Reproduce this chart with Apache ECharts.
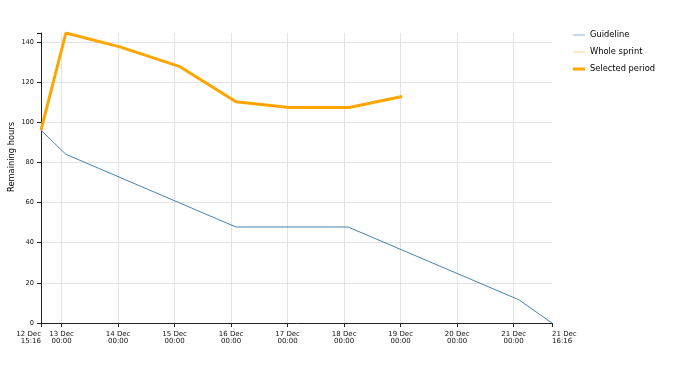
<!DOCTYPE html>
<html>
<head>
<meta charset="utf-8">
<script src="https://cdn.jsdelivr.net/npm/echarts@6/dist/echarts.min.js"></script>
<style>
html,body{margin:0;padding:0;background:#fff;}
#chart{width:690px;height:365px;}
</style>
</head>
<body>
<div id="chart"></div>
<script>
// ---- data ----
var seriesNames = ['Guideline', 'Whole sprint', 'Selected period'];
var guidelineTimes = ['2023-12-12T15:16', '2023-12-13T01:50', '2023-12-16T02:04', '2023-12-18T01:40', '2023-12-21T02:08', '2023-12-21T16:16'];
var guidelineValues = [96, 84, 47.8, 47.8, 11.6, 0];
var sprintTimes = ['2023-12-12T15:16', '2023-12-13T01:50', '2023-12-14T00:47', '2023-12-15T01:58', '2023-12-16T02:04', '2023-12-17T00:40', '2023-12-18T02:06', '2023-12-19T00:36'];
var wholeSprintValues = [96, 144.4, 137.5, 127.8, 110.2, 107.3, 107.3, 112.8];
var selectedValues = [96, 144.4, 137.5, 127.8, 110.2, 107.3, 107.3, 112.8];
var xTickTimes = ['2023-12-12T15:16', '2023-12-13T00:00', '2023-12-14T00:00', '2023-12-15T00:00', '2023-12-16T00:00', '2023-12-17T00:00', '2023-12-18T00:00', '2023-12-19T00:00', '2023-12-20T00:00', '2023-12-21T00:00', '2023-12-21T16:16'];
var xTickLabels = ['12 Dec\n15:16', '13 Dec\n00:00', '14 Dec\n00:00', '15 Dec\n00:00', '16 Dec\n00:00', '17 Dec\n00:00', '18 Dec\n00:00', '19 Dec\n00:00', '20 Dec\n00:00', '21 Dec\n00:00', '21 Dec\n16:16'];
var yTickValues = [0, 20, 40, 60, 80, 100, 120, 140];
var yTitle = 'Remaining hours';

// ---- build ----
function t(s) { return new Date(s + ':00Z').getTime(); }
var xTicks = xTickTimes.map(t);
var xMin = xTicks[0], xMax = xTicks[xTicks.length - 1];
var dayTicks = xTicks.slice(1, xTicks.length - 1);
var yMax = Math.max.apply(null, guidelineValues.concat(wholeSprintValues, selectedValues));
function pairs(times, vals) { return times.map(function (s, i) { return [t(s), vals[i]]; }); }

var THIN = 'path://M0,0 M0,4.5 H12 V5.5 H0 Z M12,10';
var THICK = 'path://M0,0 M0,3.5 H12 V6.5 H0 Z M12,10';
var FONT = 'DejaVu Sans';
var chart = echarts.init(document.getElementById('chart'), null, {renderer: 'canvas'});
chart.setOption({
  animation: false,
  backgroundColor: '#fff',
  grid: {left: 41, right: 138, top: 33, bottom: 42, containLabel: false},
  legend: {
    left: 573, top: 30, padding: 0, orient: 'vertical', itemWidth: 12, itemHeight: 10, itemGap: 7,
    textStyle: {fontFamily: FONT, fontSize: 8.3, color: '#000'},
    data: [
      {name: seriesNames[0], icon: THIN, itemStyle: {color: '#8fb2d6'}},
      {name: seriesNames[1], icon: THIN},
      {name: seriesNames[2], icon: THICK}
    ]
  },
  graphic: [{
    type: 'text', x: 12, y: 157, rotation: Math.PI / 2,
    style: {text: yTitle, fontFamily: FONT, fontSize: 8.3, fill: '#000', align: 'center', verticalAlign: 'middle'}
  }],
  xAxis: [{
    type: 'value', min: xMin, max: xMax,
    axisLine: {show: true, onZero: false, lineStyle: {color: '#222', width: 1}},
    axisTick: {show: true, length: 4, lineStyle: {color: '#222'}, customValues: xTicks},
    axisLabel: {customValues: xTicks, showMinLabel: true, showMaxLabel: true, hideOverlap: false,
      alignMinLabel: 'right', alignMaxLabel: 'left',
      margin: 7, fontFamily: FONT, fontSize: 7, color: '#111', lineHeight: 7.5,
      formatter: function (v) { var i = xTicks.indexOf(v); return i >= 0 ? xTickLabels[i] : ''; }},
    splitLine: {show: false}
  }, {
    type: 'value', min: xMin, max: xMax, position: 'bottom',
    axisLine: {show: false}, axisLabel: {show: false},
    axisTick: {show: false, customValues: dayTicks},
    splitLine: {show: true, lineStyle: {color: '#e4e4e4', width: 1}}
  }],
  yAxis: [{
    type: 'value', min: 0, max: yMax,
    axisLine: {show: true, lineStyle: {color: '#222', width: 1}},
    axisTick: {show: true, length: 4, lineStyle: {color: '#222'}, customValues: yTickValues.concat([yMax])},
    axisLabel: {customValues: yTickValues, margin: 7, fontFamily: FONT, fontSize: 6.6, color: '#111'},
    splitLine: {show: false}
  }, {
    type: 'value', min: 0, max: yMax,
    axisLine: {show: false}, axisLabel: {show: false},
    axisTick: {show: false, customValues: yTickValues.slice(1)},
    splitLine: {show: true, lineStyle: {color: '#e4e4e4', width: 1}}
  }],
  series: [{
    name: seriesNames[0], type: 'line', xAxisIndex: 0, yAxisIndex: 0,
    data: pairs(guidelineTimes, guidelineValues), symbol: 'none', z: 3,
    lineStyle: {color: '#4682b4', width: 1}, itemStyle: {color: '#4682b4'}
  }, {
    name: seriesNames[1], type: 'line', xAxisIndex: 0, yAxisIndex: 0,
    data: pairs(sprintTimes, wholeSprintValues), symbol: 'none', z: 4,
    lineStyle: {color: '#ffd27a', width: 1}, itemStyle: {color: '#ffd27a'}
  }, {
    name: seriesNames[2], type: 'line', xAxisIndex: 0, yAxisIndex: 0,
    data: pairs(sprintTimes, selectedValues), symbol: 'none', z: 5,
    lineStyle: {color: '#ffa500', width: 3}, itemStyle: {color: '#ffa500'}
  }]
});
</script>
</body>
</html>
